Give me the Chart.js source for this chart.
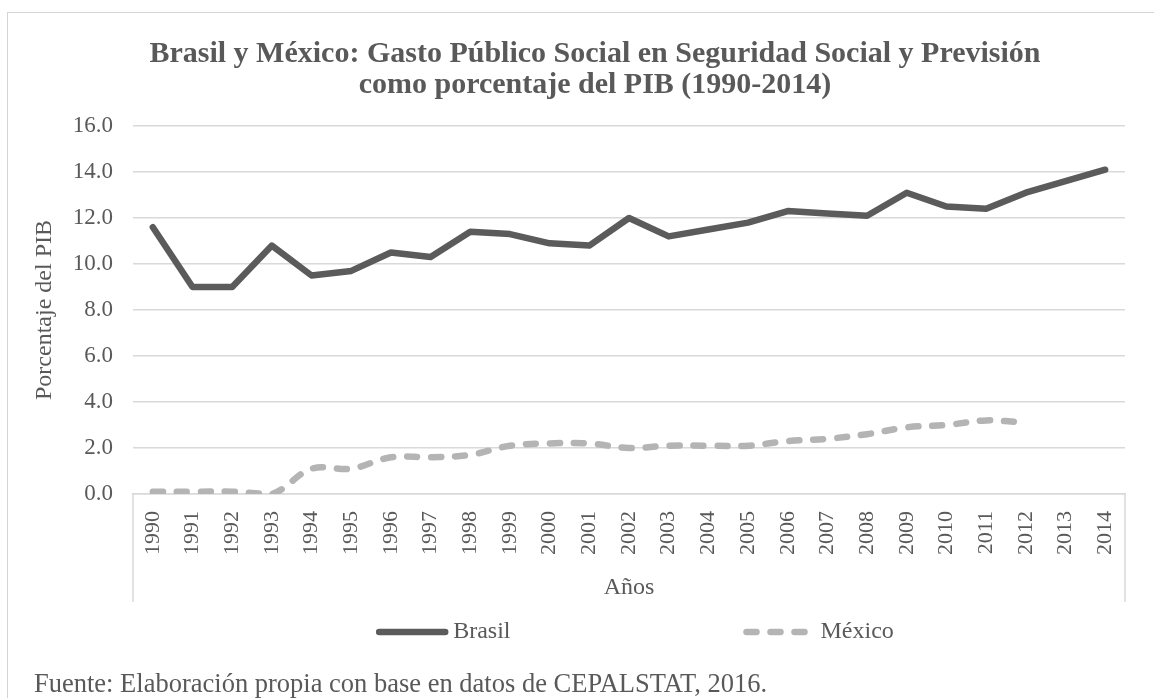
<!doctype html>
<html lang="es">
<head>
<meta charset="utf-8">
<title>Brasil y México: Gasto Público Social en Seguridad Social y Previsión</title>
<script src="https://cdn.jsdelivr.net/npm/chart.js@4.4.1/dist/chart.umd.min.js"></script>
<style>
  html, body { margin: 0; padding: 0; background: #fff; overflow: hidden; }
  body { width: 1154px; height: 698px; position: relative; font-family: "Liberation Serif", "Times New Roman", serif; color: #595959; }
  .frame { position: absolute; left: 7px; top: 12px; width: 1300px; height: 800px; border: 1px solid #d4d4d4; }
  .title { position: absolute; left: 0; top: 36px; width: 1190px; text-align: center; font-weight: bold; font-size: 30px; line-height: 31px; }
  .wrap { position: absolute; left: 0; top: 0; width: 1154px; height: 698px; }
  .source { position: absolute; left: 34px; top: 671px; font-size: 26.5px; line-height: 25px; white-space: nowrap; }
</style>
</head>
<body>
<div class="frame"></div>
<div class="wrap"><canvas id="chart"></canvas></div>
<div class="title">Brasil y México: Gasto Público Social en Seguridad Social y Previsión<br>como porcentaje del PIB (1990-2014)</div>
<div class="source">Fuente: Elaboración propia con base en datos de CEPALSTAT, 2016.</div>

<script>
const years = ['1990', '1991', '1992', '1993', '1994', '1995', '1996', '1997', '1998', '1999',
  '2000', '2001', '2002', '2003', '2004', '2005', '2006', '2007', '2008', '2009',
  '2010', '2011', '2012', '2013', '2014'];

// gasto en seguridad social y previsión, % del PIB
const brasil = [11.6, 9.0, 9.0, 10.8, 9.5, 9.7, 10.5, 10.3, 11.4, 11.3,
  10.9, 10.8, 12.0, 11.2, 11.5, 11.8, 12.3, 12.2, 12.1, 13.1,
  12.5, 12.4, 13.1, 13.6, 14.1];
const mexico = [0.1, 0.1, 0.1, 0.0, 1.1, 1.1, 1.6, 1.6, 1.7, 2.1,
  2.2, 2.2, 2.0, 2.1, 2.1, 2.1, 2.3, 2.4, 2.6, 2.9,
  3.0, 3.2, 3.1, null, null];

const yTicks = [0, 2, 4, 6, 8, 10, 12, 14, 16];

const TEXT = '#595959';
const GRID = '#d9d9d9';
const FONT = '"Liberation Serif", "Times New Roman", serif';

// vertical edges of the category label box under the x axis
const axisBox = {
  id: 'axisBox',
  afterDraw(chart) {
    const { ctx, chartArea, scales } = chart;
    ctx.save();
    ctx.strokeStyle = GRID;
    ctx.lineWidth = 1.5;
    ctx.beginPath();
    for (const px of [chartArea.left, chartArea.right]) {
      ctx.moveTo(px, chartArea.bottom);
      ctx.lineTo(px, scales.x.bottom);
    }
    ctx.stroke();
    ctx.restore();
  },
};

// legend with line samples and a wide gap between the two entries
const SAMPLE_W = 72;
const TEXT_GAP = 5;
const ITEM_GAP = 233;
const lineLegend = {
  id: 'lineLegend',
  afterDraw(chart) {
    const { ctx, chartArea, scales } = chart;
    const y = scales.x.bottom + 30;
    ctx.save();
    ctx.font = '24px ' + FONT;
    const items = chart.data.datasets.map((ds) => ({
      ds,
      w: SAMPLE_W + TEXT_GAP + ctx.measureText(ds.label).width,
    }));
    const total = items.reduce((s, it) => s + it.w, 0) + ITEM_GAP * (items.length - 1);
    let x = (chartArea.left + chartArea.right) / 2 - total / 2 + 6;
    for (const it of items) {
      ctx.beginPath();
      ctx.strokeStyle = it.ds.borderColor;
      ctx.lineWidth = it.ds.borderWidth;
      ctx.lineCap = 'round';
      ctx.setLineDash(it.ds.borderDash || []);
      ctx.moveTo(x + 3, y);
      ctx.lineTo(x + SAMPLE_W - 3, y);
      ctx.stroke();
      ctx.setLineDash([]);
      ctx.fillStyle = TEXT;
      ctx.textBaseline = 'middle';
      ctx.textAlign = 'left';
      ctx.fillText(it.ds.label, x + SAMPLE_W + TEXT_GAP, y);
      x += it.w + ITEM_GAP;
    }
    ctx.restore();
  },
};

new Chart(document.getElementById('chart'), {
  type: 'line',
  data: {
    labels: years,
    datasets: [
      {
        label: 'Brasil',
        data: brasil,
        borderColor: '#5b5b5b',
        borderWidth: 6.5,
        borderCapStyle: 'round',
        borderJoinStyle: 'round',
        pointRadius: 0,
        tension: 0,
        fill: false,
      },
      {
        label: 'México',
        data: mexico,
        borderColor: '#b4b4b4',
        borderWidth: 6.5,
        borderDash: [10, 14],
        borderCapStyle: 'round',
        borderJoinStyle: 'round',
        pointRadius: 0,
        tension: 0.35,
        fill: false,
      },
    ],
  },
  options: {
    responsive: true,
    maintainAspectRatio: false,
    animation: false,
    layout: { padding: { left: 30, top: 126, right: 29, bottom: 96 } },
    plugins: {
      legend: { display: false },
      title: { display: false },
      tooltip: { enabled: false },
    },
    scales: {
      x: {
        offset: true,
        grid: { display: false, drawTicks: false },
        border: { display: true, color: GRID, width: 1.5 },
        ticks: {
          autoSkip: false,
          minRotation: 90,
          maxRotation: 90,
          padding: 17,
          color: TEXT,
          font: { family: FONT, size: 22 },
        },
        title: {
          display: true,
          text: 'Años',
          color: TEXT,
          font: { family: FONT, size: 24 },
          padding: { top: 0, bottom: 0 },
        },
        afterFit(scale) { scale.height = 108; },
      },
      y: {
        min: 0,
        max: 16,
        afterBuildTicks(scale) { scale.ticks = yTicks.map((v) => ({ value: v })); },
        grid: { color: GRID, lineWidth: 1.5, drawTicks: false },
        border: { display: false },
        ticks: {
          padding: 20,
          color: TEXT,
          font: { family: FONT, size: 23 },
          callback: (v) => v.toFixed(1),
        },
        title: {
          display: true,
          text: 'Porcentaje del PIB',
          color: TEXT,
          font: { family: FONT, size: 24 },
          padding: { top: 0, bottom: 0 },
        },
        afterFit(scale) { scale.width = 103; },
      },
    },
  },
  plugins: [axisBox, lineLegend],
});
</script>
</body>
</html>
